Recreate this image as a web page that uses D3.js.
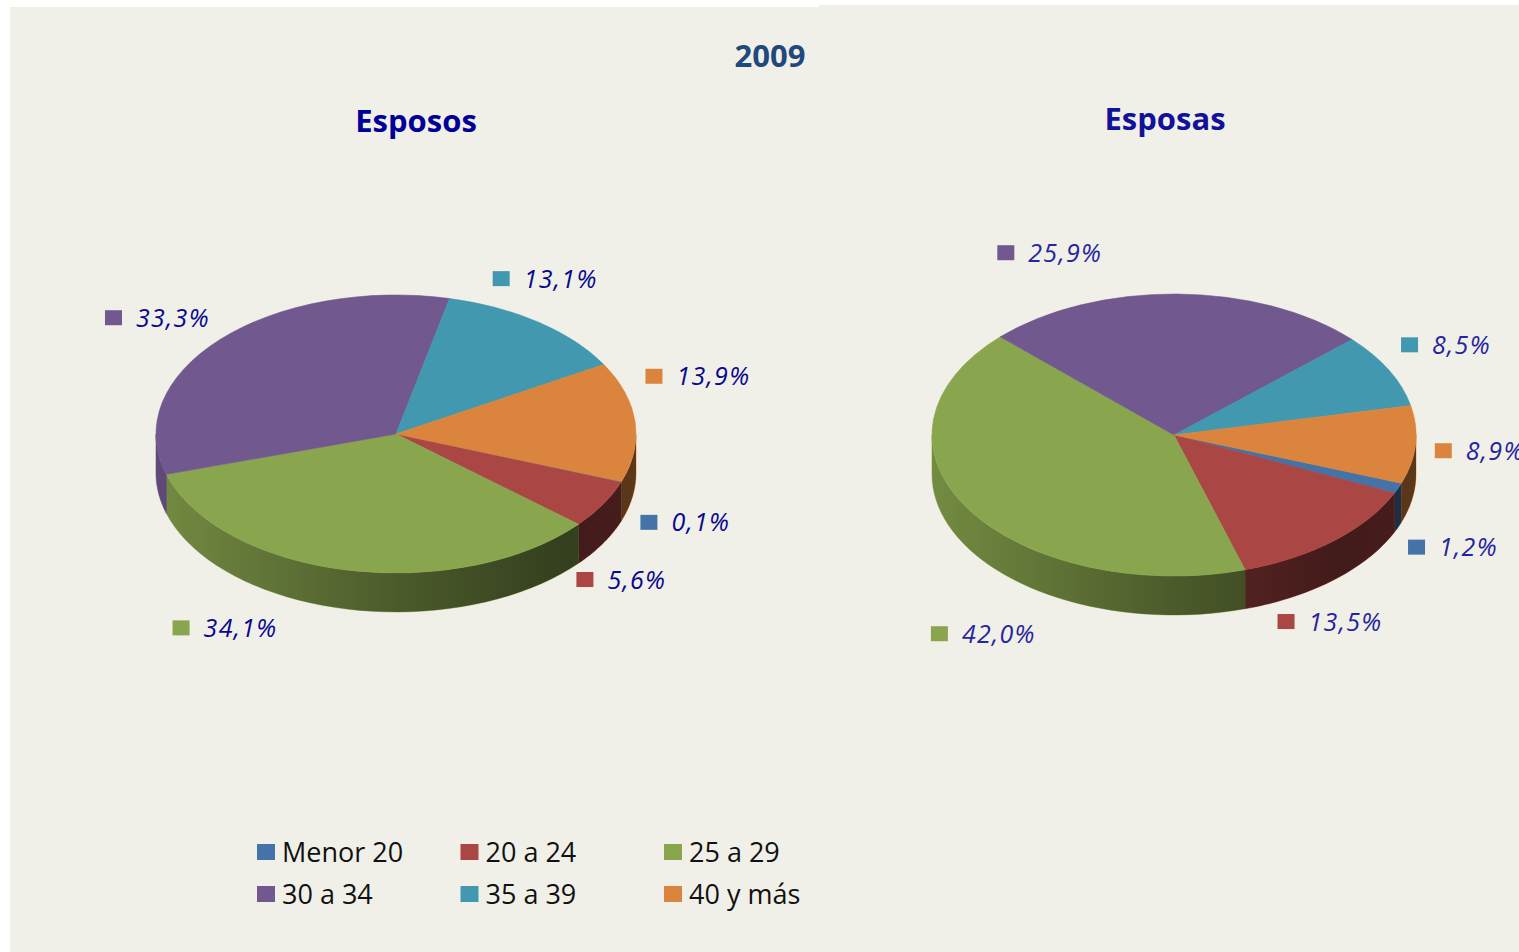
<!DOCTYPE html>
<html>
<head>
<meta charset="utf-8">
<script src="https://cdn.jsdelivr.net/npm/d3@7"></script>
<style>
body { margin: 0; background: #fff; }
svg { display: block; font-family: "Open Sans", "Noto Sans", sans-serif; }
</style>
</head>
<body>
<svg id="chart"></svg>
<script>
const width = 1519;
const height = 952;

// DATA
const ageGroups = ['Menor 20', '20 a 24', '25 a 29', '30 a 34', '35 a 39', '40 y más'];
const esposos = [0.1, 5.6, 34.1, 33.3, 13.1, 13.9];
const esposas = [1.2, 13.5, 42.0, 25.9, 8.5, 8.9];
const groupColors = ['#4572a7', '#aa4643', '#89a54e', '#71588f', '#4198af', '#db843d'];
const chartTitle = '2009';
const pieTitles = ['Esposos', 'Esposas'];

// label nudges, px (Excel placed a few labels by hand)
const nudgeEsposos = [[19, -13], [-23, 15], [-112, -22], [-28, 7], [-22, -10], [15, -42]];
const nudgeEsposas = [[10, 4], [-36, 10], [57, 64], [-128, 1], [14, -6], [16, -36]];

const pies = [
  {title: pieTitles[0], values: esposos, nudge: nudgeEsposos, cx: 396, cy: 434, rx: 240, ry: 139,
   titleX: 416, titleY: 132, titleColor: '#000099', labelColor: '#08088f'},
  {title: pieTitles[1], values: esposas, nudge: nudgeEsposas, cx: 1174, cy: 435, rx: 242, ry: 141,
   titleX: 1165, titleY: 130, titleColor: '#11119a', labelColor: '#25259e'}
];
const depth = 39;

// SCALES
const color = d3.scaleOrdinal().domain(ageGroups).range(groupColors);
const start = 110 * Math.PI / 180;
const pie = d3.pie().sort(null).value(d => d.value)
              .startAngle(start).endAngle(start + 2 * Math.PI);

const svg = d3.select('#chart')
              .attr('width', width)
              .attr('height', height);

// BACKGROUND PANELS
svg.append('rect').attr('x', 10).attr('y', 7).attr('width', 810).attr('height', height - 7).attr('fill', '#f1f0e8');
svg.append('rect').attr('x', 819).attr('y', 5).attr('width', width - 819).attr('height', height - 5).attr('fill', '#f1f0e8');

const defs = svg.append('defs');

//TITLE
svg.append('text')
    .attr('x', 770)
    .attr('y', 67)
    .style('text-anchor', 'middle')
    .style('font-size', '31px')
    .style('font-weight', 'bold')
    .style('fill', '#1f497d')
    .text(chartTitle);

pies.forEach((p, pi) => {
  const data = ageGroups.map((g, i) => ({group: g, value: p.values[i], nudge: p.nudge[i]}));
  const arcs = pie(data);
  const g = svg.append('g').attr('transform', `translate(${p.cx},${p.cy})`);

  const ex = a => p.rx * Math.sin(a);
  const ey = a => -p.ry * Math.cos(a);

  // side shade gradient
  const gid = 'shade' + pi;
  const grad = defs.append('linearGradient').attr('id', gid)
      .attr('gradientUnits', 'userSpaceOnUse')
      .attr('x1', -p.rx).attr('x2', p.rx).attr('y1', 0).attr('y2', 0);
  [[0, 0.16], [0.5, 0.45], [0.85, 0.62], [1, 0.58]].forEach(s =>
    grad.append('stop').attr('offset', s[0]).attr('stop-color', '#000').attr('stop-opacity', s[1]));

  // SIDE WALLS (front half only)
  const fronts = [[Math.PI / 2, 3 * Math.PI / 2], [5 * Math.PI / 2, 7 * Math.PI / 2]];
  const line = d3.line();
  const walls = [];
  arcs.forEach(d => {
    fronts.forEach(f => {
      const b0 = Math.max(d.startAngle, f[0]);
      const b1 = Math.min(d.endAngle, f[1]);
      if (b1 > b0) {
        const top = d3.range(41).map(k => b0 + (b1 - b0) * k / 40).map(a => [ex(a), ey(a)]);
        const bottom = top.slice().reverse().map(q => [q[0], q[1] + depth]);
        walls.push({group: d.data.group, path: line(top.concat(bottom)) + 'Z'});
      }
    });
  });
  g.selectAll('path.wall').data(walls).enter().append('path')
      .attr('class', 'wall')
      .attr('d', d => d.path)
      .attr('fill', d => color(d.group))
      .attr('stroke', d => color(d.group))
      .attr('stroke-width', 0.6);
  g.selectAll('path.shade').data(walls).enter().append('path')
      .attr('class', 'shade')
      .attr('d', d => d.path)
      .attr('fill', `url(#${gid})`);

  // TOP FACE
  const arc = d3.arc().innerRadius(0).outerRadius(p.rx);
  g.append('g').attr('transform', `scale(1,${p.ry / p.rx})`)
    .selectAll('path').data(arcs).enter().append('path')
      .attr('d', arc)
      .attr('fill', d => color(d.data.group))
      .attr('stroke', d => color(d.data.group))
      .attr('stroke-width', 0.6)
      .attr('vector-effect', 'non-scaling-stroke');

  // PIE TITLE
  svg.append('text')
      .attr('x', p.titleX)
      .attr('y', p.titleY)
      .style('text-anchor', 'middle')
      .style('font-size', '31px')
      .style('font-weight', 'bold')
      .style('fill', p.titleColor)
      .text(p.title);

  // LABELS
  arcs.forEach(d => {
    const a = (d.startAngle + d.endAngle) / 2;
    const c = Math.cos(a);
    const bx = p.cx + 1.2 * ex(a) + d.data.nudge[0];
    const by = p.cy + 1.3 * ey(a) + (c < 0 ? depth : 0) + d.data.nudge[1];
    const lg = svg.append('g');
    lg.append('rect')
        .attr('x', 0).attr('y', -7.5)
        .attr('width', 17).attr('height', 15)
        .attr('fill', color(d.data.group));
    const t = lg.append('text')
        .attr('x', 31)
        .attr('y', 9)
        .style('font-size', '25px')
        .style('font-style', 'italic')
        .style('letter-spacing', '1.3px')
        .style('fill', p.labelColor)
        .text(d3.format('.1f')(d.data.value).replace('.', ',') + '%');
    const w = 31 + t.node().getComputedTextLength();
    lg.attr('transform', `translate(${bx - w / 2},${by})`);
  });
});

// LEGEND
const legend = svg.append('g')
    .selectAll('g')
    .data(ageGroups)
    .enter()
    .append('g')
      .attr('transform', (d, i) => `translate(${257 + (i % 3) * 203.5},${852 + Math.floor(i / 3) * 42})`);
legend.append('rect')
    .attr('x', 0).attr('y', -8)
    .attr('width', 18).attr('height', 16)
    .attr('fill', d => color(d));
legend.append('text')
    .attr('x', 25)
    .attr('y', 10)
    .style('font-size', '27px')
    .style('fill', '#111')
    .text(d => d);
</script>
</body>
</html>
